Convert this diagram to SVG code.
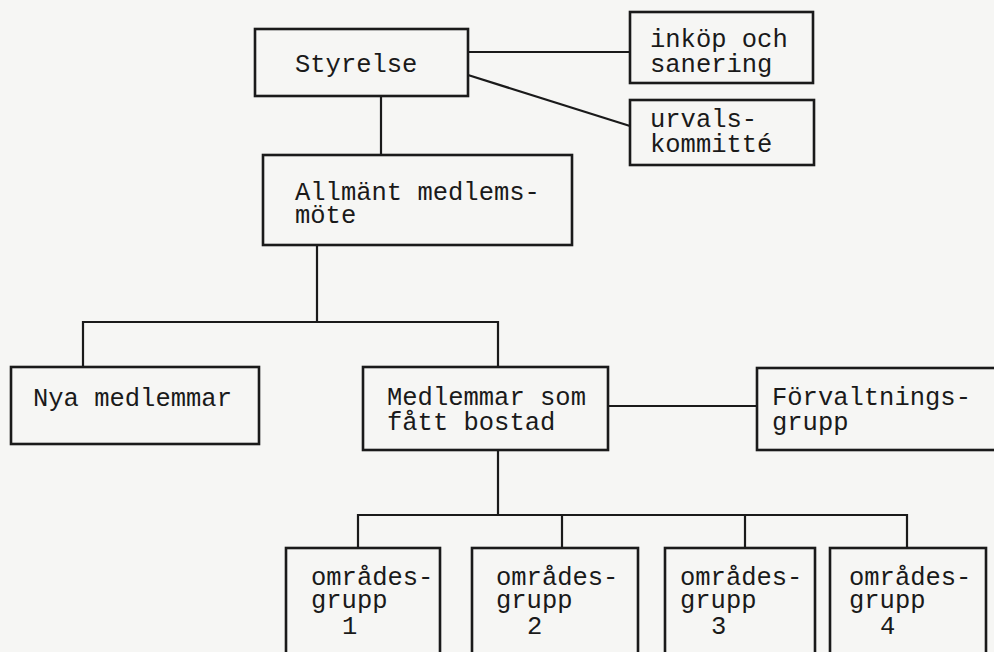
<svg xmlns="http://www.w3.org/2000/svg" width="994" height="652" viewBox="0 0 994 652">
<style>
.bg{fill:#f6f6f4}
.box{fill:none;stroke:#1a1a1a;stroke-width:2.6}
.ln{fill:none;stroke:#1a1a1a;stroke-width:2.2}
text{font-family:"Liberation Mono","DejaVu Sans Mono",monospace;font-size:25.5px;fill:#1a1a1a}
</style>
<rect class="bg" x="0" y="0" width="994" height="652"/>
<g id="connectors">
<line class="ln" x1="468" y1="52" x2="630" y2="52"/>
<line class="ln" x1="468" y1="75" x2="630" y2="126"/>
<line class="ln" x1="381" y1="96" x2="381" y2="155"/>
<line class="ln" x1="317" y1="245" x2="317" y2="322"/>
<polyline class="ln" points="83,367 83,322 498,322 498,367"/>
<line class="ln" x1="608" y1="406" x2="757" y2="406"/>
<line class="ln" x1="498" y1="450" x2="498" y2="515"/>
<polyline class="ln" points="358,548 358,515 907,515 907,548"/>
<line class="ln" x1="562" y1="515" x2="562" y2="548"/>
<line class="ln" x1="745" y1="515" x2="745" y2="548"/>
</g>
<g id="styrelse">
<rect class="box" x="255" y="29" width="213" height="67"/>
<text x="295" y="72">Styrelse</text>
</g>
<g id="inkop">
<rect class="box" x="630" y="12" width="183" height="71"/>
<text x="650" y="47">inköp och</text>
<text x="650" y="72">sanering</text>
</g>
<g id="urval">
<rect class="box" x="630" y="100" width="184" height="65"/>
<text x="650" y="127">urvals-</text>
<text x="650" y="152">kommitté</text>
</g>
<g id="allmant">
<rect class="box" x="263" y="155" width="309" height="90"/>
<text x="295" y="200">Allmänt medlems-</text>
<text x="295" y="223">möte</text>
</g>
<g id="nya">
<rect class="box" x="11" y="367" width="248" height="77"/>
<text x="33" y="406">Nya medlemmar</text>
</g>
<g id="medlemmar">
<rect class="box" x="363" y="367" width="245" height="83"/>
<text x="387" y="405">Medlemmar som</text>
<text x="387" y="430">fått bostad</text>
</g>
<g id="forvaltning">
<rect class="box" x="757" y="368" width="250" height="82"/>
<text x="772" y="405">Förvaltnings-</text>
<text x="772" y="430">grupp</text>
</g>
<g id="omr1">
<rect class="box" x="286" y="548" width="154" height="115"/>
<text x="311" y="585">områdes-</text>
<text x="311" y="608">grupp</text>
<text x="342" y="634">1</text>
</g>
<g id="omr2">
<rect class="box" x="472" y="548" width="166" height="115"/>
<text x="496" y="585">områdes-</text>
<text x="496" y="608">grupp</text>
<text x="527" y="634">2</text>
</g>
<g id="omr3">
<rect class="box" x="665" y="548" width="150" height="115"/>
<text x="680" y="585">områdes-</text>
<text x="680" y="608">grupp</text>
<text x="711" y="634">3</text>
</g>
<g id="omr4">
<rect class="box" x="830" y="548" width="156" height="115"/>
<text x="849" y="585">områdes-</text>
<text x="849" y="608">grupp</text>
<text x="880" y="634">4</text>
</g>
</svg>
